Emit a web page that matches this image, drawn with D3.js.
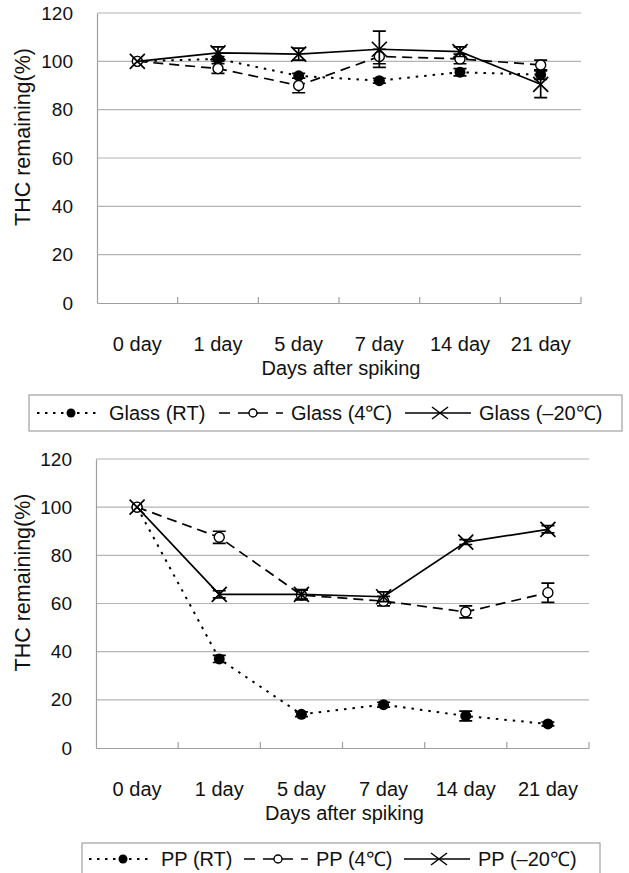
<!DOCTYPE html>
<html>
<head>
<meta charset="utf-8">
<script src="https://cdn.jsdelivr.net/npm/d3@7"></script>
<style>
  body { margin: 0; background: #fff; }
  text { font-family: "Liberation Sans", Arial, sans-serif; fill: #111; }
</style>
</head>
<body>
<svg id="chart" width="629" height="873"></svg>
<script>
// categories and ticks
const days = ["0 day", "1 day", "5 day", "7 day", "14 day", "21 day"];
const yTicks = [0, 20, 40, 60, 80, 100, 120];

// glass vials
const glassRT = [100, 101, 94, 92, 95.5, 94.5];
const glassRTErr = [0, 1, 1, 1, 1.5, 2];
const glass4 = [100, 97, 90, 102, 101, 98.5];
const glass4Err = [0, 2, 3, 3, 2, 2];
const glassM20 = [100, 103.5, 103, 105, 104, 90.5];
const glassM20Err = [0, 2.5, 2.5, 7.5, 2, 5.5];

// polypropylene tubes
const ppRT = [100, 37, 14, 18, 13.3, 10];
const ppRTErr = [0, 1.5, 1, 1, 2, 0.8];
const pp4 = [100, 87.5, 63.5, 61, 56.5, 64.5];
const pp4Err = [0, 2.5, 2, 2, 2.5, 4];
const ppM20 = [100, 63.8, 63.8, 62.8, 85.5, 90.8];
const ppM20Err = [0, 1.5, 2, 2, 1, 1.5];

const svg = d3.select("#chart");

const styles = {
  rt: { dash: "2.5,6", marker: "dot" },
  c4: { dash: "10,6", marker: "open" },
  m20: { dash: null, marker: "cross" }
};

function drawMarker(g, type, x, y) {
  if (type === "dot") {
    g.append("circle").attr("cx", x).attr("cy", y).attr("r", 5.5).attr("fill", "#000");
  } else if (type === "open") {
    g.append("circle").attr("cx", x).attr("cy", y).attr("r", 5)
      .attr("fill", "#fff").attr("stroke", "#000").attr("stroke-width", 1.4);
  } else {
    const s = 7.5;
    g.append("path")
      .attr("d", `M${x - s},${y - s}L${x + s},${y + s}M${x - s},${y + s}L${x + s},${y - s}`)
      .attr("stroke", "#000").attr("stroke-width", 1.7);
  }
}

function drawPanel(box, series) {
  const x = d3.scaleBand().domain(days).range([box.left, box.right]).padding(0);
  const y = d3.scaleLinear().domain([0, 120]).range([box.bottom, box.top]);
  const g = svg.append("g");

  // gridlines
  g.selectAll(".grid").data(yTicks.filter(t => t > 0)).join("line")
    .attr("x1", box.left).attr("x2", box.right)
    .attr("y1", d => y(d)).attr("y2", d => y(d))
    .attr("stroke", "#b4b4b4").attr("stroke-width", 1.2);

  // axes
  const xAxis = g.append("g").attr("transform", `translate(0,${box.bottom})`)
    .call(d3.axisBottom(x).tickSize(0).tickFormat(""));
  xAxis.select(".domain").attr("stroke", "#a0a0a0").attr("stroke-width", 1.2);
  g.selectAll(".xt").data(days).join("line")
    .attr("x1", d => x(d) + x.bandwidth()).attr("x2", d => x(d) + x.bandwidth())
    .attr("y1", box.bottom).attr("y2", box.bottom - 6)
    .attr("stroke", "#a0a0a0").attr("stroke-width", 1.2);
  g.selectAll(".xl").data(days).join("text")
    .attr("x", d => x(d) + x.bandwidth() / 2)
    .attr("y", box.bottom + 48)
    .attr("text-anchor", "middle").attr("font-size", 20).text(d => d);
  g.append("text").attr("x", (box.left + box.right) / 2 + 2).attr("y", box.bottom + 72)
    .attr("text-anchor", "middle").attr("font-size", 20).text("Days after spiking");

  const yAxis = g.append("g").attr("transform", `translate(${box.left},0)`)
    .call(d3.axisLeft(y).tickValues(yTicks).tickSize(0).tickPadding(24));
  yAxis.select(".domain").attr("stroke", "#a0a0a0").attr("stroke-width", 1.2);
  yAxis.selectAll("text").attr("font-size", 19)
    .style("font-family", "Liberation Sans, Arial, sans-serif").attr("fill", "#111");
  g.append("text")
    .attr("transform", `translate(30,${(box.top + box.bottom) / 2 - 21}) rotate(-90)`)
    .attr("text-anchor", "middle").attr("font-size", 21.5).text("THC remaining(%)");

  // series
  series.forEach(s => {
    const st = styles[s.kind];
    const pts = days.map((d, i) => ({ cx: x(d) + x.bandwidth() / 2, v: s.values[i], e: s.err[i] }));
    const line = d3.line().x(p => p.cx).y(p => y(p.v));
    g.append("path").datum(pts).attr("d", line)
      .attr("fill", "none").attr("stroke", "#000")
      .attr("stroke-width", s.kind === "rt" ? 2 : 1.7)
      .attr("stroke-dasharray", st.dash);
    pts.forEach(p => {
      if (p.e > 0) {
        const y0 = y(p.v + p.e), y1 = y(p.v - p.e);
        g.append("path")
          .attr("d", `M${p.cx},${y0}V${y1}M${p.cx - 6.5},${y0}H${p.cx + 6.5}M${p.cx - 6.5},${y1}H${p.cx + 6.5}`)
          .attr("stroke", "#000").attr("stroke-width", 1.7).attr("fill", "none");
      }
      drawMarker(g, st.marker, p.cx, y(p.v));
    });
  });
}

function drawLegend(box, items) {
  const g = svg.append("g");
  g.append("rect").attr("x", box.x).attr("y", box.y).attr("width", box.w).attr("height", box.h)
    .attr("fill", "#fff").attr("stroke", "#a0a0a0").attr("stroke-width", 1.2);
  const cy = box.y + box.h / 2;
  items.forEach(it => {
    const st = styles[it.kind];
    g.append("line").attr("x1", it.x0).attr("x2", it.x0 + it.len).attr("y1", cy).attr("y2", cy)
      .attr("stroke", "#000").attr("stroke-width", it.kind === "rt" ? 1.8 : 1.5)
      .attr("stroke-dasharray", it.kind === "rt" ? "2.5,5.5" : it.kind === "c4" ? "11,8" : null);
    const mx = it.x0 + it.len / 2 + 2;
    if (st.marker === "dot") {
      g.append("circle").attr("cx", mx).attr("cy", cy).attr("r", 4.5).attr("fill", "#000");
    } else if (st.marker === "open") {
      g.append("circle").attr("cx", mx).attr("cy", cy).attr("r", 4)
        .attr("fill", "#fff").attr("stroke", "#000").attr("stroke-width", 1.4);
    } else {
      g.append("path").attr("d", `M${mx - 8},${cy - 6}L${mx + 8},${cy + 6}M${mx - 8},${cy + 6}L${mx + 8},${cy - 6}`)
        .attr("stroke", "#000").attr("stroke-width", 1.5);
    }
    g.append("text").attr("x", it.x0 + it.len + 8).attr("y", cy + 7)
      .attr("font-size", 20).text(it.label);
  });
}

drawPanel({ left: 97, right: 581, top: 13, bottom: 303 }, [
  { kind: "rt", values: glassRT, err: glassRTErr },
  { kind: "c4", values: glass4, err: glass4Err },
  { kind: "m20", values: glassM20, err: glassM20Err }
]);

drawLegend({ x: 29, y: 395, w: 593, h: 36 }, [
  { kind: "rt", x0: 37, len: 64, label: "Glass (RT)" },
  { kind: "c4", x0: 219, len: 64, label: "Glass (4\u2103)" },
  { kind: "m20", x0: 405, len: 66, label: "Glass (\u201320\u2103)" }
]);

drawPanel({ left: 96, right: 589, top: 459, bottom: 748 }, [
  { kind: "rt", values: ppRT, err: ppRTErr },
  { kind: "c4", values: pp4, err: pp4Err },
  { kind: "m20", values: ppM20, err: ppM20Err }
]);

drawLegend({ x: 82, y: 843, w: 518, h: 32 }, [
  { kind: "rt", x0: 89, len: 64, label: "PP (RT)" },
  { kind: "c4", x0: 244, len: 64, label: "PP (4\u2103)" },
  { kind: "m20", x0: 404, len: 66, label: "PP (\u201320\u2103)" }
]);
</script>
</body>
</html>
